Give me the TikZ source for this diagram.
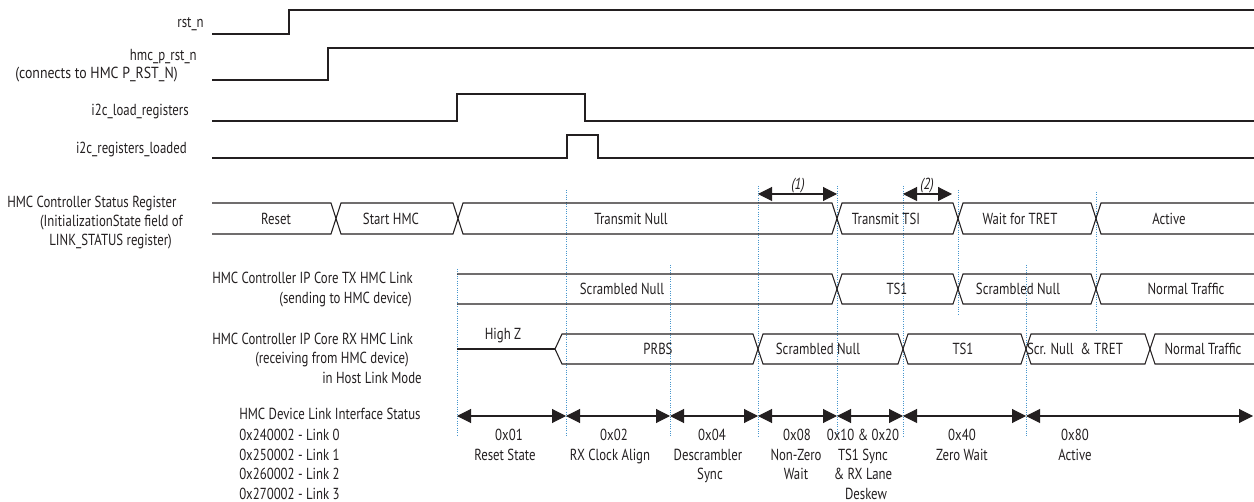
\documentclass[tikz,border=0pt]{standalone}
\usepackage{fontspec}
\setmainfont{PT Sans}[FakeStretch=0.8]
\usetikzlibrary{arrows.meta}
\definecolor{guide}{RGB}{70,150,205}
\definecolor{wave}{RGB}{35,31,32}
\begin{document}
\begin{tikzpicture}[x=0.75pt,y=-0.75pt,
  every node/.style={font=\fontsize{12}{14}\selectfont, inner sep=0pt, text=wave},
  wire/.style={draw=wave, line width=0.8pt, line join=miter},
  guideline/.style={draw=guide, line width=0.75pt, densely dotted},
  dimarrow/.style={draw=wave, line width=0.8pt, {Triangle[length=10.5pt,width=10.5pt]}-{Triangle[length=10.5pt,width=10.5pt]}},
  tr/.style={anchor=base east},
  tl/.style={anchor=base west},
  tc/.style={anchor=base}]
\useasboundingbox (0,0) rectangle (1254,502);

% ---- signal labels ----
\node[tr] (lrst) at (204,28) {rst\_n};
\node[tr] (lhmc) at (197,60.5) {hmc\_p\_rst\_n};
\node[tr] (lcon) at (178,78.5) {\scalebox{1.08}[1]{(connects to HMC P\_RST\_N)}};
\node[tr] (lload) at (189,115.5) {i2c\_load\_registers};
\node[tr] (lloaded) at (187,153.5) {i2c\_registers\_loaded};
\node[tl] (lst1) at (7,207.5) {HMC Controller Status Register};
\node[tr] (lst2) at (183,226.5) {(InitializationState field of};
\node[tr] (lst3) at (172,245.5) {LINK\_STATUS register)};
\node[tl] (ltx1) at (212,283.5) {HMC Controller IP Core TX HMC Link};
\node[tr] (ltx2) at (412,303.5) {(sending to HMC device)};
\node[tl] (lrx1) at (212,344.5) {HMC Controller IP Core RX HMC Link};
\node[tr] (lrx2) at (409,364) {(receiving from HMC device)};
\node[tr] (lrx3) at (422,384) {in Host Link Mode};
\node[tl] (ldev0) at (239,419.5) {HMC Device Link Interface Status};
\node[tl] (ldev1) at (239,440.5) {0x240002 - Link 0};
\node[tl] (ldev2) at (239,460) {0x250002 - Link 1};
\node[tl] (ldev3) at (239,479.5) {0x260002 - Link 2};
\node[tl] (ldev4) at (239,499) {0x270002 - Link 3};

% ---- guides ----
\draw[guideline] (457,269) -- (457,437);
\draw[guideline] (566,190) -- (566,437);
\draw[guideline] (670,265) -- (670,437);
\draw[guideline] (758,186) -- (758,437);
\draw[guideline] (837,186) -- (837,437);
\draw[guideline] (903,186) -- (903,437);
\draw[guideline] (958,190) -- (958,315);
\draw[guideline] (1026,265) -- (1026,437);
\draw[guideline] (1096,192) -- (1096,330);

% ---- single signals ----
\draw[wire] (212,34) -- (289,34) -- (289,10) -- (1254,10);
\draw[wire] (212,80) -- (328,80) -- (328,48) -- (1254,48);
\draw[wire] (212,121) -- (457,121) -- (457,94) -- (585,94) -- (585,121) -- (1254,121);
\draw[wire] (212,158) -- (567,158) -- (567,135) -- (598,135) -- (598,158) -- (1254,158);

% ---- status bus ----
\draw[wire] (212,203) -- (331,203) -- (341,234) -- (453,234) -- (463,203) -- (832,203) -- (842,234) -- (953,234) -- (963,203) -- (1091,203) -- (1101,234) -- (1254,234);
\draw[wire] (212,234) -- (331,234) -- (341,203) -- (453,203) -- (463,234) -- (832,234) -- (842,203) -- (953,203) -- (963,234) -- (1091,234) -- (1101,203) -- (1254,203);
\node[tc] (s1) at (276,225) {Reset};
\node[tc] (s2) at (391,225) {Start HMC};
\node[tc] (s3) at (631,225) {Transmit Null};
\node[tc] (s4) at (886,225) {Transmit TSI};
\node[tc] (s5) at (1020,225) {Wait for TRET};
\node[tc] (s6) at (1169,225) {Active};

% ---- dimension marks (1) (2) ----
\draw[dimarrow] (758,194) -- (837,194);
\draw[dimarrow] (903,194) -- (952,194);
\node[tc] (n1) at (798,189.5) {\itshape (1)};
\node[tc] (n2) at (927,189.5) {\itshape (2)};

% ---- TX bus ----
\draw[wire] (457,274) -- (832,274) -- (842,304) -- (953,304) -- (963,274) -- (1091,274) -- (1101,304) -- (1254,304);
\draw[wire] (457,304) -- (832,304) -- (842,274) -- (953,274) -- (963,304) -- (1091,304) -- (1101,274) -- (1254,274);
\node[tc] (t1) at (622,295) {Scrambled Null};
\node[tc] (t2) at (897,295) {TS1};
\node[tc] (t3) at (1018,295) {Scrambled Null};
\node[tc] (t4) at (1186,295) {Normal Traffic};

% ---- RX bus ----
\draw[wire] (457,349) -- (555,349);
\draw[wire] (555,349) -- (562,334) -- (753,334) -- (763,364) -- (898,364) -- (908,334) -- (1021,334) -- (1031,364) -- (1145,364) -- (1155,334) -- (1254,334);
\draw[wire] (555,349) -- (562,364) -- (753,364) -- (763,334) -- (898,334) -- (908,364) -- (1021,364) -- (1031,334) -- (1145,334) -- (1155,364) -- (1254,364);
\node[tc] (hz) at (503,340) {High Z};
\node[tc] (r1) at (658,355) {PRBS};
\node[tc] (r2) at (818,355) {Scrambled Null};
\node[tc] (r3) at (963,355) {TS1};
\node[tc] (r4) at (1075,355) {Scr. Null\ \ \& TRET};
\node[tc] (r5) at (1203,355) {Normal Traffic};

% ---- link status intervals ----
\draw[dimarrow] (457,416) -- (566,416);
\draw[dimarrow] (566,416) -- (670,416);
\draw[dimarrow] (670,416) -- (758,416);
\draw[dimarrow] (758,416) -- (837,416);
\draw[dimarrow] (837,416) -- (903,416);
\draw[dimarrow] (903,416) -- (1026,416);
\draw[dimarrow] (1026,416) -- (1253,416);

\node[tc] (a1) at (509,440.5) {0x01};
\node[tc] (a1b) at (505,460) {Reset State};
\node[tc] (a2) at (614,440.5) {0x02};
\node[tc] (a2b) at (610,460) {RX Clock Align};
\node[tc] (a3) at (712,440.5) {0x04};
\node[tc] (a3b) at (708,460) {Descrambler};
\node[tc] (a3c) at (710,479.5) {Sync};
\node[tc] (a4) at (797,440.5) {0x08};
\node[tc] (a4b) at (796,460) {Non-Zero};
\node[tc] (a4c) at (796,479.5) {Wait};
\node[tc] (a5) at (863,440.5) {0x10 \& 0x20};
\node[tc] (a5b) at (863,460) {TS1 Sync};
\node[tc] (a5c) at (863,479.5) {\& RX Lane};
\node[tc] (a5d) at (866,499) {Deskew};
\node[tc] (a6) at (962,440.5) {0x40};
\node[tc] (a6b) at (962,460) {Zero Wait};
\node[tc] (a7) at (1075,440.5) {0x80};
\node[tc] (a7b) at (1075,460) {Active};
\end{tikzpicture}
\end{document}
